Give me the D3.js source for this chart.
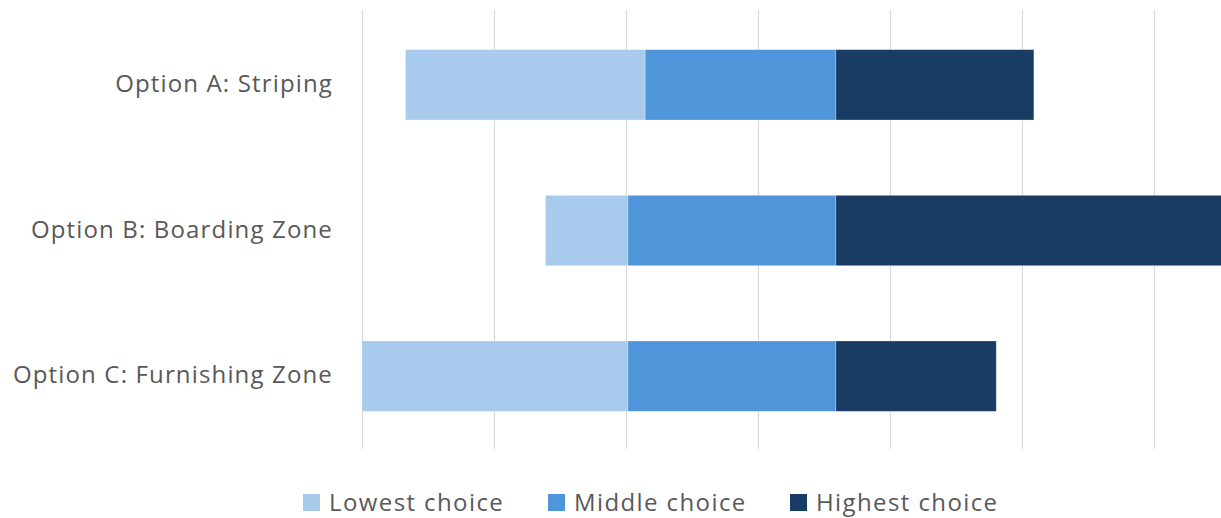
<!DOCTYPE html>
<html>
<head>
<meta charset="utf-8">
<script src="https://cdn.jsdelivr.net/npm/d3@7"></script>
<style>
  html, body { margin: 0; padding: 0; background: #fff; }
  svg { display: block; }
  text { font-family: "Open Sans", sans-serif; fill: #595959; }
</style>
</head>
<body>
<svg id="chart" width="1221" height="518"></svg>
<script>
// Data (percent of responses)
const categories = ["Option A: Striping", "Option B: Boarding Zone", "Option C: Furnishing Zone"];
const seriesNames = ["Lowest choice", "Middle choice", "Highest choice"];
const lowest  = [36.3, 12.5, 40.3];
const middle  = [28.9, 31.5, 31.5];
const highest = [30.0, 60.0, 24.3];
const tickValues = [0, 20, 40, 60, 80, 100, 120];
const colors = ["#a8caec", "#4f95d9", "#183c63"];

const svg = d3.select("#chart");
const plot = { left: 362, right: 1286, top: 12, bottom: 449 };

const x = d3.scaleLinear().domain([0, 140]).range([plot.left, plot.right]);
const y = d3.scaleBand().domain(categories).range([plot.top, plot.bottom])
  .paddingInner(0.517).paddingOuter(0.2585);

// Diverging offset: align the end of "Middle choice" for all categories
const leftSum = categories.map((c, i) => lowest[i] + middle[i]);
const maxLeft = d3.max(leftSum);
const rows = categories.map((c, i) => {
  const base = maxLeft - leftSum[i];
  return [
    { cat: c, s: 0, x0: base, x1: base + lowest[i] },
    { cat: c, s: 1, x0: base + lowest[i], x1: base + lowest[i] + middle[i] },
    { cat: c, s: 2, x0: base + lowest[i] + middle[i], x1: base + lowest[i] + middle[i] + highest[i] }
  ];
}).flat();

// Gridlines
svg.append("g")
  .attr("transform", `translate(0,${plot.bottom})`)
  .call(d3.axisBottom(x).tickValues(tickValues).tickSize(-(plot.bottom - 10)).tickFormat(""))
  .call(g => g.select(".domain").remove())
  .call(g => g.selectAll(".tick line").attr("stroke", "#d9d9d9").attr("stroke-width", 1.2));

// Bars
svg.append("g").selectAll("rect").data(rows).join("rect")
  .attr("x", d => x(d.x0))
  .attr("width", d => x(d.x1) - x(d.x0))
  .attr("y", d => y(d.cat))
  .attr("height", y.bandwidth())
  .attr("fill", d => colors[d.s])
  .attr("stroke", "#ffffff").attr("stroke-opacity", 0.35).attr("stroke-width", 0.75);

// Category labels
svg.append("g").selectAll("text").data(categories).join("text")
  .attr("x", 333)
  .attr("y", d => y(d) + y.bandwidth() / 2)
  .attr("dy", "0.3em")
  .attr("text-anchor", "end")
  .style("font-size", "24px")
  .style("letter-spacing", "1.15px")
  .text(d => d);

// Legend
const legend = svg.append("g").attr("class", "legend");
const starts = [303, 548, 790];
seriesNames.forEach((n, i) => {
  const g = legend.append("g").attr("transform", `translate(${starts[i]},0)`);
  g.append("rect").attr("x", 0).attr("y", 494).attr("width", 17).attr("height", 17).attr("fill", colors[i]);
  g.append("text").attr("x", 26).attr("y", 511)
    .style("font-size", "24px").style("letter-spacing", "1.4px").text(n);
});
</script>
</body>
</html>
